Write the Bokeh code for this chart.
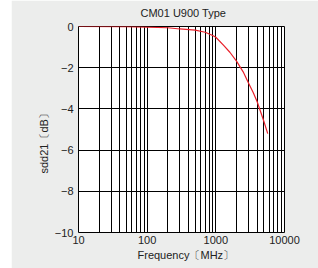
from bokeh.plotting import figure
from bokeh.models import FixedTicker, Range1d, Title
from bokeh.embed import file_html
from bokeh.resources import INLINE

freq_mhz = [10, 50, 100, 200, 300, 500, 700, 900, 1000, 1300, 1600, 2000, 2500, 3000, 3500, 4000, 4500, 5000, 5700]
sdd21_db = [0.0, -0.01, -0.03, -0.06, -0.12, -0.18, -0.28, -0.44, -0.52, -0.92, -1.25, -1.68, -2.2, -2.75, -3.2, -3.65, -4.15, -4.6, -5.2]

x_ticks = [10, 100, 1000, 10000]
y_ticks = [0, -2, -4, -6, -8, -10]
y_tick_labels = ["0", "\u22122", "\u22124", "\u22126", "\u22128", "\u221210"]
x_grid = [m * d for d in (10, 100, 1000) for m in range(1, 10)] + [10000]

title_text = "CM01 U900 Type"
x_label_text = "Frequency\u3014MHz\u3015"
y_label_text = "sdd21\u3014dB\u3015"

FONT = "Liberation Sans"
TXT = "#222222"
BG = "#ecedec"

W, H = 307, 268
p = figure(width=W, height=H, x_axis_type="log", output_backend="svg",
           toolbar_location=None, x_range=Range1d(10, 10000), y_range=Range1d(-10, 0),
           min_border_left=67, min_border_right=34, min_border_top=26, min_border_bottom=36)
p.margin = (0, 0, 0, 11)
p.background_fill_color = "white"
p.border_fill_color = BG
p.outline_line_color = "black"
p.outline_line_width = 1

p.line(freq_mhz, sdd21_db, line_color="#e8202a", line_width=1.2)

p.xaxis.ticker = FixedTicker(ticks=x_ticks)
p.yaxis.ticker = FixedTicker(ticks=y_ticks)
p.yaxis.major_label_overrides = {float(v): s for v, s in zip(y_ticks, y_tick_labels)}
p.xaxis.major_label_overrides = {float(v): str(v) for v in x_ticks}
for ax in (p.xaxis, p.yaxis):
    ax.axis_line_color = None
    ax.major_tick_line_color = None
    ax.minor_tick_line_color = None
    ax.major_tick_out = 0
    ax.major_tick_in = 0
    ax.major_label_text_font = FONT
    ax.major_label_text_font_size = "11px"
    ax.major_label_text_color = TXT
p.xaxis.major_label_standoff = 3
p.yaxis.major_label_standoff = 5

p.xgrid.ticker = FixedTicker(ticks=x_grid)
p.ygrid.ticker = FixedTicker(ticks=y_ticks)
for g in (p.xgrid, p.ygrid):
    g.grid_line_color = "black"
    g.grid_line_alpha = 1.0
    g.grid_line_width = 1

def make_title(text, offset, standoff, valign="bottom"):
    return Title(text=text, align="left", offset=offset, standoff=standoff,
                 vertical_align=valign,
                 text_font=FONT, text_font_size="11px", text_font_style="normal",
                 text_color=TXT)

p.title = make_title(title_text, 62, 11, "top")
p.add_layout(make_title(x_label_text, 59, 1), "below")
p.add_layout(make_title(y_label_text, 59, 3), "left")

open("out.html", "w").write(file_html(p, INLINE))
